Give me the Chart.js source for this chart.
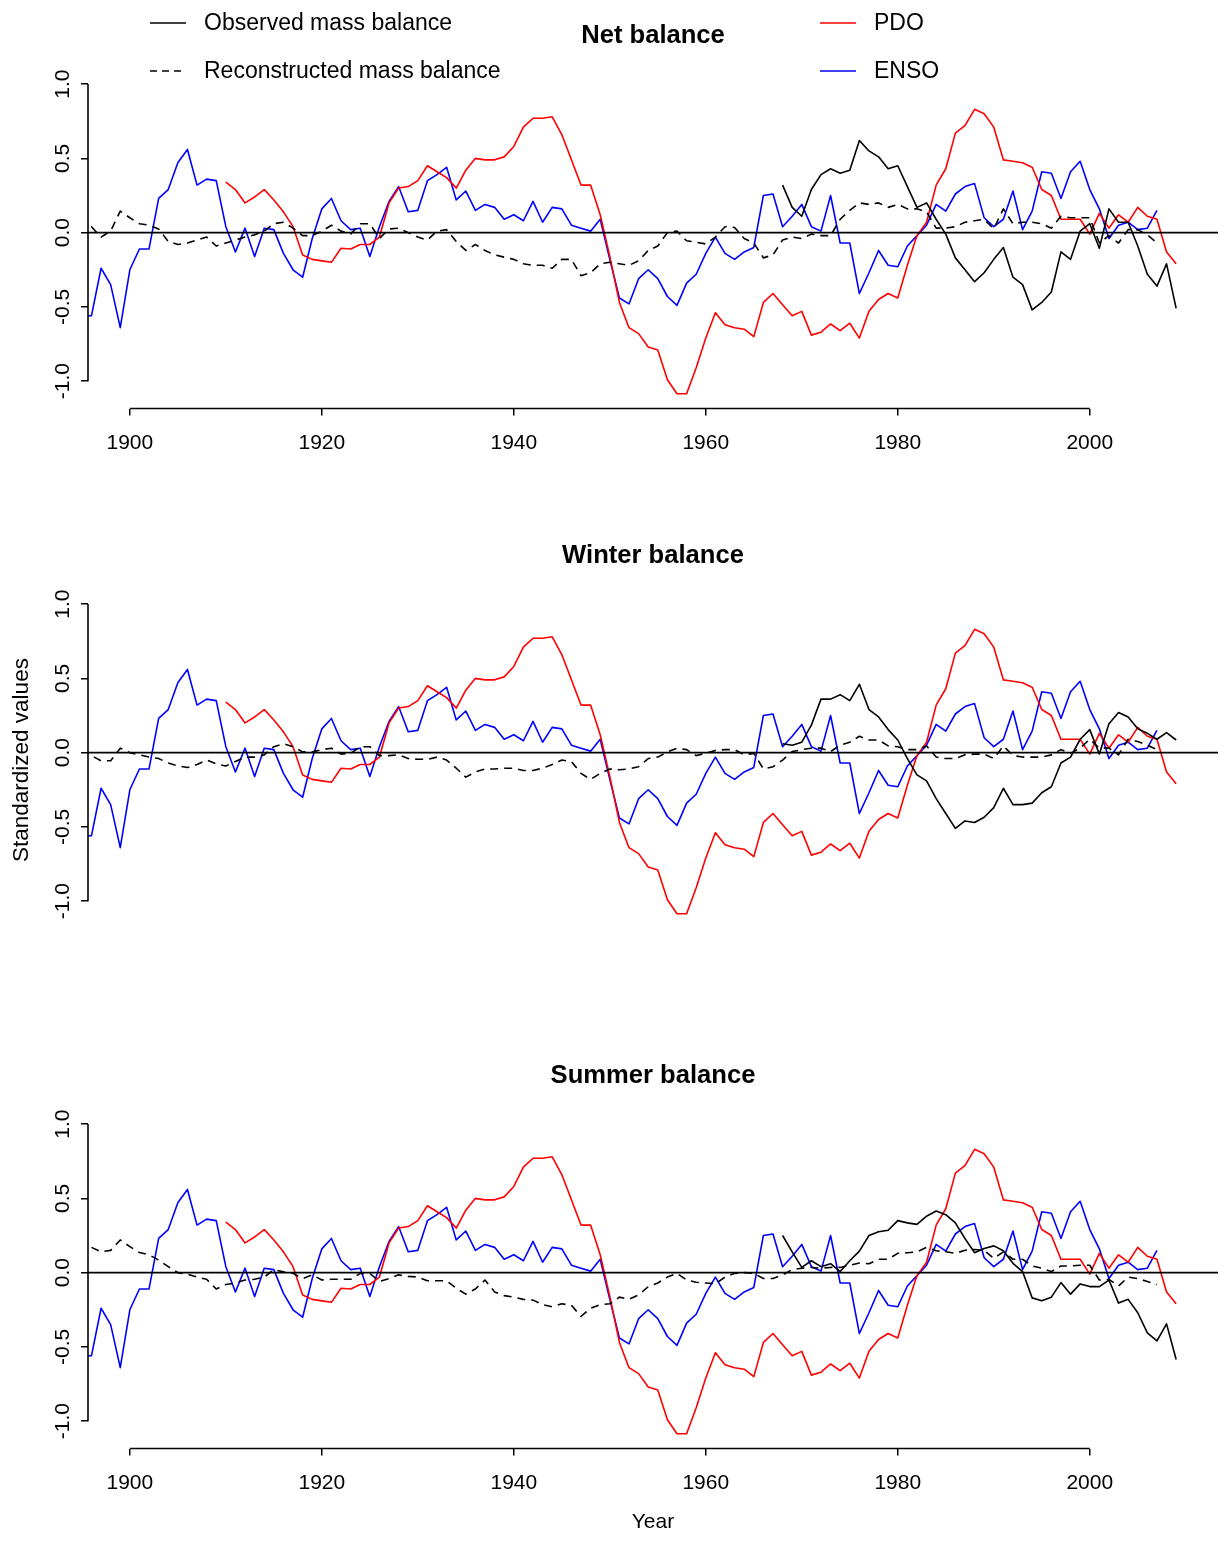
<!DOCTYPE html>
<html>
<head>
<meta charset="utf-8">
<title>Mass balance, PDO and ENSO</title>
<script src="https://cdn.jsdelivr.net/npm/chart.js@4/dist/chart.umd.min.js"></script>
<style>
  html, body { margin: 0; padding: 0; background: #ffffff; }
  #wrap { position: relative; width: 1225px; height: 1542px; background: #ffffff; }
  canvas { position: absolute; left: 0; }
</style>
</head>
<body>
<div id="wrap">
  <canvas id="netChart" width="1225" height="480" style="top:0px"></canvas>
  <canvas id="winterChart" width="1225" height="480" style="top:520px"></canvas>
  <canvas id="summerChart" width="1225" height="502" style="top:1040px"></canvas>
</div>
<script>
// ---- data (standardized values, one entry per year 1895-2009) ----
const firstYear = 1895;
const lastYear = 2009;
const years = Array.from({ length: lastYear - firstYear + 1 }, (_, i) => firstYear + i);

const xTicks = [1900, 1920, 1940, 1960, 1980, 2000];
const yTicks = [-1.0, -0.5, 0.0, 0.5, 1.0];

// ENSO index, 1895-2007
const enso = [
  -0.56, -0.56, -0.24, -0.35, -0.64, -0.25, -0.11, -0.11, 0.23, 0.29,
  0.47, 0.56, 0.32, 0.36, 0.35, 0.04, -0.13, 0.03, -0.16, 0.03,
  0.02, -0.14, -0.25, -0.30, -0.04, 0.16, 0.23, 0.08, 0.02, 0.03,
  -0.16, 0.04, 0.21, 0.31, 0.14, 0.15, 0.35, 0.39, 0.44, 0.22,
  0.28, 0.15, 0.19, 0.17, 0.09, 0.12, 0.08, 0.21, 0.07, 0.17,
  0.16, 0.05, 0.03, 0.01, 0.09, -0.18, -0.44, -0.48, -0.31, -0.25,
  -0.31, -0.43, -0.49, -0.34, -0.28, -0.14, -0.03, -0.14, -0.18, -0.13,
  -0.10, 0.25, 0.26, 0.04, 0.11, 0.19, 0.04, 0.01, 0.25, -0.07,
  -0.07, -0.41, -0.27, -0.12, -0.22, -0.23, -0.09, -0.02, 0.05, 0.19,
  0.145, 0.26, 0.31, 0.33, 0.10, 0.04, 0.09, 0.28, 0.02, 0.145,
  0.41, 0.40, 0.23, 0.41, 0.48, 0.29, 0.16, -0.04, 0.05, 0.07,
  0.02, 0.03, 0.15, null, null
];

// PDO index, 1910-2009
const pdo = [
  null, null, null, null, null, null, null, null, null, null,
  null, null, null, null, null, 0.34, 0.29, 0.20, 0.24, 0.29,
  0.22, 0.14, 0.04, -0.15, -0.18, -0.19, -0.20, -0.105, -0.11, -0.08,
  -0.08, -0.03, 0.20, 0.30, 0.31, 0.35, 0.45, 0.41, 0.37, 0.30,
  0.42, 0.50, 0.49, 0.49, 0.51, 0.58, 0.71, 0.77, 0.77, 0.78,
  0.66, 0.49, 0.32, 0.32, 0.12, -0.16, -0.47, -0.64, -0.68, -0.77,
  -0.79, -0.99, -1.085, -1.085, -0.91, -0.71, -0.54, -0.62, -0.64, -0.65,
  -0.70, -0.47, -0.41, -0.485, -0.56, -0.53, -0.69, -0.67, -0.615, -0.66,
  -0.61, -0.71, -0.53, -0.45, -0.41, -0.44, -0.22, -0.02, 0.07, 0.32,
  0.43, 0.67, 0.72, 0.83, 0.80, 0.71, 0.49, 0.48, 0.47, 0.44,
  0.29, 0.25, 0.09, 0.09, 0.09, -0.01, 0.13, 0.03, 0.12, 0.07,
  0.17, 0.11, 0.09, -0.13, -0.21
];

// Net balance: observed 1968-2009, reconstructed 1895-2007
const netObserved = [
  null, null, null, null, null, null, null, null, null, null,
  null, null, null, null, null, null, null, null, null, null,
  null, null, null, null, null, null, null, null, null, null,
  null, null, null, null, null, null, null, null, null, null,
  null, null, null, null, null, null, null, null, null, null,
  null, null, null, null, null, null, null, null, null, null,
  null, null, null, null, null, null, null, null, null, null,
  null, null, null, 0.32, 0.17, 0.11, 0.29, 0.39, 0.43, 0.40,
  0.42, 0.62, 0.55, 0.51, 0.43, 0.45, 0.31, 0.17, 0.20, 0.09,
  -0.01, -0.17, -0.25, -0.33, -0.27, -0.18, -0.10, -0.30, -0.35, -0.52,
  -0.47, -0.40, -0.13, -0.18, 0.01, 0.06, -0.105, 0.16, 0.07, 0.07,
  -0.09, -0.28, -0.36, -0.21, -0.51
];
const netReconstructed = [
  -0.03, 0.04, -0.03, 0.01, 0.145, 0.10, 0.06, 0.05, 0.025, -0.06,
  -0.08, -0.07, -0.05, -0.03, -0.09, -0.07, -0.05, -0.03, -0.015, 0.01,
  0.06, 0.07, 0.03, -0.02, -0.02, 0.01, 0.05, 0.01, -0.01, 0.06,
  0.06, -0.04, 0.025, 0.03, 0.00, -0.03, -0.05, 0.01, 0.02, -0.06,
  -0.12, -0.08, -0.12, -0.15, -0.165, -0.18, -0.21, -0.22, -0.22, -0.24,
  -0.18, -0.18, -0.29, -0.27, -0.21, -0.20, -0.21, -0.22, -0.19, -0.12,
  -0.09, 0.00, 0.01, -0.055, -0.065, -0.076, -0.03, 0.04, 0.035, -0.04,
  -0.07, -0.17, -0.15, -0.05, -0.03, -0.04, -0.01, -0.02, -0.02, 0.09,
  0.15, 0.20, 0.19, 0.20, 0.17, 0.19, 0.16, 0.16, 0.14, 0.03,
  0.03, 0.04, 0.07, 0.08, 0.09, 0.025, 0.16, 0.06, 0.07, 0.07,
  0.06, 0.03, 0.11, 0.10, 0.10, 0.10, -0.07, -0.02, -0.07, 0.02,
  0.02, -0.015, -0.07, null, null
];

// Winter balance
const winterObserved = [
  null, null, null, null, null, null, null, null, null, null,
  null, null, null, null, null, null, null, null, null, null,
  null, null, null, null, null, null, null, null, null, null,
  null, null, null, null, null, null, null, null, null, null,
  null, null, null, null, null, null, null, null, null, null,
  null, null, null, null, null, null, null, null, null, null,
  null, null, null, null, null, null, null, null, null, null,
  null, null, null, 0.06, 0.05, 0.07, 0.185, 0.36, 0.36, 0.39,
  0.35, 0.46, 0.29, 0.24, 0.155, 0.085, -0.04, -0.15, -0.19, -0.31,
  -0.41, -0.51, -0.46, -0.47, -0.435, -0.37, -0.24, -0.35, -0.35, -0.34,
  -0.27, -0.23, -0.07, -0.03, 0.09, 0.155, -0.01, 0.195, 0.27, 0.24,
  0.16, 0.13, 0.09, 0.135, 0.085
];
const winterReconstructed = [
  0.02, -0.02, -0.055, -0.055, 0.03, 0.00, -0.015, -0.03, -0.04, -0.07,
  -0.09, -0.10, -0.08, -0.05, -0.075, -0.09, -0.06, -0.03, -0.03, -0.015,
  0.04, 0.06, 0.04, 0.005, 0.005, 0.02, 0.03, -0.01, -0.005, 0.04,
  0.04, -0.02, -0.02, -0.015, -0.04, -0.045, -0.045, -0.03, -0.05, -0.105,
  -0.165, -0.13, -0.11, -0.11, -0.105, -0.105, -0.12, -0.12, -0.105, -0.08,
  -0.05, -0.06, -0.14, -0.18, -0.14, -0.11, -0.115, -0.11, -0.095, -0.04,
  -0.03, 0.005, 0.03, 0.02, -0.02, -0.005, 0.015, 0.02, 0.02, -0.015,
  -0.005, -0.11, -0.095, -0.05, 0.007, 0.02, 0.03, 0.03, 0.007, 0.05,
  0.07, 0.11, 0.085, 0.085, 0.045, 0.04, 0.02, 0.02, 0.045, -0.03,
  -0.04, -0.04, -0.015, -0.01, -0.01, -0.04, 0.045, -0.02, -0.03, -0.03,
  -0.03, -0.015, 0.02, -0.005, 0.03, 0.09, 0.03, 0.03, -0.015, 0.09,
  0.075, 0.05, 0.02, null, null
];

// Summer balance: reconstructed starts in 1896
const summerObserved = [
  null, null, null, null, null, null, null, null, null, null,
  null, null, null, null, null, null, null, null, null, null,
  null, null, null, null, null, null, null, null, null, null,
  null, null, null, null, null, null, null, null, null, null,
  null, null, null, null, null, null, null, null, null, null,
  null, null, null, null, null, null, null, null, null, null,
  null, null, null, null, null, null, null, null, null, null,
  null, null, null, 0.25, 0.14, 0.035, 0.08, 0.04, 0.06, 0.007,
  0.08, 0.145, 0.25, 0.275, 0.285, 0.35, 0.335, 0.325, 0.38, 0.415,
  0.39, 0.335, 0.23, 0.134, 0.163, 0.18, 0.147, 0.0625, 0.007, -0.17,
  -0.19, -0.165, -0.067, -0.145, -0.076, -0.094, -0.094, -0.05, -0.205, -0.18,
  -0.27, -0.406, -0.46, -0.345, -0.585
];
const summerReconstructed = [
  null, 0.17, 0.14, 0.15, 0.22, 0.175, 0.135, 0.12, 0.085, 0.04,
  0.00, -0.01, -0.03, -0.045, -0.11, -0.08, -0.07, -0.05, -0.045, -0.03,
  0.02, 0.005, -0.005, -0.04, -0.015, -0.05, -0.045, -0.045, -0.045, -0.005,
  -0.005, -0.06, -0.04, -0.015, -0.025, -0.03, -0.055, -0.055, -0.055, -0.105,
  -0.145, -0.11, -0.05, -0.13, -0.155, -0.165, -0.18, -0.185, -0.215, -0.23,
  -0.21, -0.22, -0.295, -0.24, -0.215, -0.21, -0.165, -0.18, -0.15, -0.095,
  -0.07, -0.03, -0.005, -0.05, -0.065, -0.07, -0.075, -0.03, -0.005, 0.00,
  -0.005, -0.04, -0.04, -0.015, 0.02, 0.03, 0.035, 0.03, 0.035, 0.035,
  0.05, 0.065, 0.06, 0.09, 0.09, 0.13, 0.134, 0.14, 0.17, 0.147,
  0.14, 0.13, 0.15, 0.156, 0.15, 0.096, 0.14, 0.09, 0.09, 0.045,
  0.03, 0.007, 0.045, 0.045, 0.05, 0.05, -0.05, -0.045, -0.09, -0.03,
  -0.04, -0.06, -0.08, null, null
];

// ---- drawing ----
const FONT = '"Liberation Sans", Arial, Helvetica, sans-serif';
Chart.defaults.font.family = FONT;
Chart.defaults.color = '#000000';

const X_MIN = 1895.64, X_MAX = 2013.36;
const Y_MIN = -1.184, Y_MAX = 1.084;
const PLOT_TOP = 71.6;       // canvas-relative top of the plotting region
const PLOT_BOTTOM = 408.5;   // canvas-relative bottom of the plotting region
const PLOT_LEFT = 88;
const PLOT_RIGHT_PAD = 7;
const TITLE_SIZE = 25.6;

// Axis lines that run only between the outer ticks, plus the zero reference line
const frameLines = {
  id: 'frameLines',
  afterDatasetsDraw(chart, args, opts) {
    const { ctx, chartArea, scales } = chart;
    const x = scales.x, y = scales.y;
    ctx.save();
    ctx.strokeStyle = '#000000';
    ctx.lineWidth = 1.6;
    ctx.lineCap = 'butt';
    const y0 = y.getPixelForValue(0);
    ctx.beginPath();
    ctx.moveTo(chartArea.left, y0);
    ctx.lineTo(chartArea.right, y0);
    ctx.stroke();
    ctx.beginPath();
    ctx.moveTo(chartArea.left, y.getPixelForValue(yTicks[yTicks.length - 1]));
    ctx.lineTo(chartArea.left, y.getPixelForValue(yTicks[0]));
    ctx.stroke();
    if (opts.xAxis) {
      ctx.beginPath();
      ctx.moveTo(x.getPixelForValue(xTicks[0]), chartArea.bottom);
      ctx.lineTo(x.getPixelForValue(xTicks[xTicks.length - 1]), chartArea.bottom);
      ctx.stroke();
    }
    ctx.restore();
  }
};

// Two-column key above the first panel
const seriesKey = {
  id: 'seriesKey',
  afterDraw(chart) {
    const ctx = chart.ctx;
    const items = [
      { text: 'Observed mass balance', color: '#000000', dash: [], x: 150, y: 23 },
      { text: 'Reconstructed mass balance', color: '#000000', dash: [7, 5], x: 150, y: 71 },
      { text: 'PDO', color: '#ff0000', dash: [], x: 820, y: 23 },
      { text: 'ENSO', color: '#0000ff', dash: [], x: 820, y: 71 }
    ];
    ctx.save();
    ctx.font = '23px ' + FONT;
    ctx.textBaseline = 'middle';
    ctx.textAlign = 'left';
    items.forEach(it => {
      ctx.strokeStyle = it.color;
      ctx.lineWidth = 1.5;
      ctx.setLineDash(it.dash);
      ctx.beginPath();
      ctx.moveTo(it.x, it.y);
      ctx.lineTo(it.x + 36, it.y);
      ctx.stroke();
      ctx.setLineDash([]);
      ctx.fillStyle = '#000000';
      ctx.fillText(it.text, it.x + 54, it.y + 1);
    });
    ctx.restore();
  }
};

function makeDatasets(observed, reconstructed) {
  const base = { pointRadius: 0, pointHoverRadius: 0, borderWidth: 1.6, tension: 0,
                 fill: false, spanGaps: false, borderJoinStyle: 'round' };
  return [
    Object.assign({ label: 'Observed mass balance', data: observed, borderColor: '#000000' }, base),
    Object.assign({ label: 'Reconstructed mass balance', data: reconstructed, borderColor: '#000000',
                    borderDash: [8, 6], borderCapStyle: 'butt' }, base),
    Object.assign({ label: 'PDO', data: pdo, borderColor: '#ff0000' }, base),
    Object.assign({ label: 'ENSO', data: enso, borderColor: '#0000ff' }, base)
  ];
}

function makePanel(canvasId, title, observed, reconstructed, cfg) {
  const canvas = document.getElementById(canvasId);
  const h = canvas.height;
  const plugins = [frameLines];
  if (cfg.key) plugins.push(seriesKey);
  const titleLine = TITLE_SIZE * 1.2;
  return new Chart(canvas, {
    type: 'line',
    data: { labels: years, datasets: makeDatasets(observed, reconstructed) },
    plugins: plugins,
    options: {
      responsive: false,
      animation: false,
      events: [],
      layout: { padding: { left: 0, right: PLOT_RIGHT_PAD, top: 0, bottom: 0 } },
      plugins: {
        legend: { display: false },
        tooltip: { enabled: false },
        title: {
          display: true, text: title, fullSize: false, color: '#000000',
          font: { family: FONT, size: TITLE_SIZE, weight: 'bold' },
          padding: { top: 21, bottom: PLOT_TOP - 21 - titleLine }
        },
        frameLines: { xAxis: cfg.xAxis }
      },
      scales: {
        x: {
          type: 'linear', min: X_MIN, max: X_MAX, display: cfg.xAxis,
          afterBuildTicks: s => { s.ticks = xTicks.map(v => ({ value: v })); },
          afterFit: s => { s.height = h - PLOT_BOTTOM; },
          grid: { drawOnChartArea: false, drawTicks: true, tickLength: 7, color: '#000000', lineWidth: 1.5 },
          border: { display: false },
          ticks: { color: '#000000', font: { family: FONT, size: 21 }, padding: 15,
                   maxRotation: 0, minRotation: 0, autoSkip: false, callback: v => String(v) },
          title: { display: !!cfg.xTitle, text: cfg.xTitle || '', color: '#000000',
                   font: { family: FONT, size: 21 }, padding: { top: 0, bottom: 7.4 } }
        },
        y: {
          type: 'linear', min: Y_MIN, max: Y_MAX,
          afterBuildTicks: s => { s.ticks = yTicks.map(v => ({ value: v })); },
          afterFit: s => { s.width = PLOT_LEFT; },
          grid: { drawOnChartArea: false, drawTicks: true, tickLength: 7, color: '#000000', lineWidth: 1.5 },
          border: { display: false },
          ticks: { color: '#000000', font: { family: FONT, size: 21 }, padding: 0,
                   crossAlign: 'center', minRotation: 90, maxRotation: 90, autoSkip: false,
                   callback: v => Number(v).toFixed(1) },
          title: { display: !!cfg.yTitle, text: cfg.yTitle || '', color: '#000000',
                   font: { family: FONT, size: 22.5 }, padding: { top: 8.5, bottom: 0 } }
        }
      }
    }
  });
}

makePanel('netChart', 'Net balance', netObserved, netReconstructed, { xAxis: true, key: true });
makePanel('winterChart', 'Winter balance', winterObserved, winterReconstructed, { xAxis: false, yTitle: 'Standardized values' });
makePanel('summerChart', 'Summer balance', summerObserved, summerReconstructed, { xAxis: true, xTitle: 'Year' });
</script>
</body>
</html>
